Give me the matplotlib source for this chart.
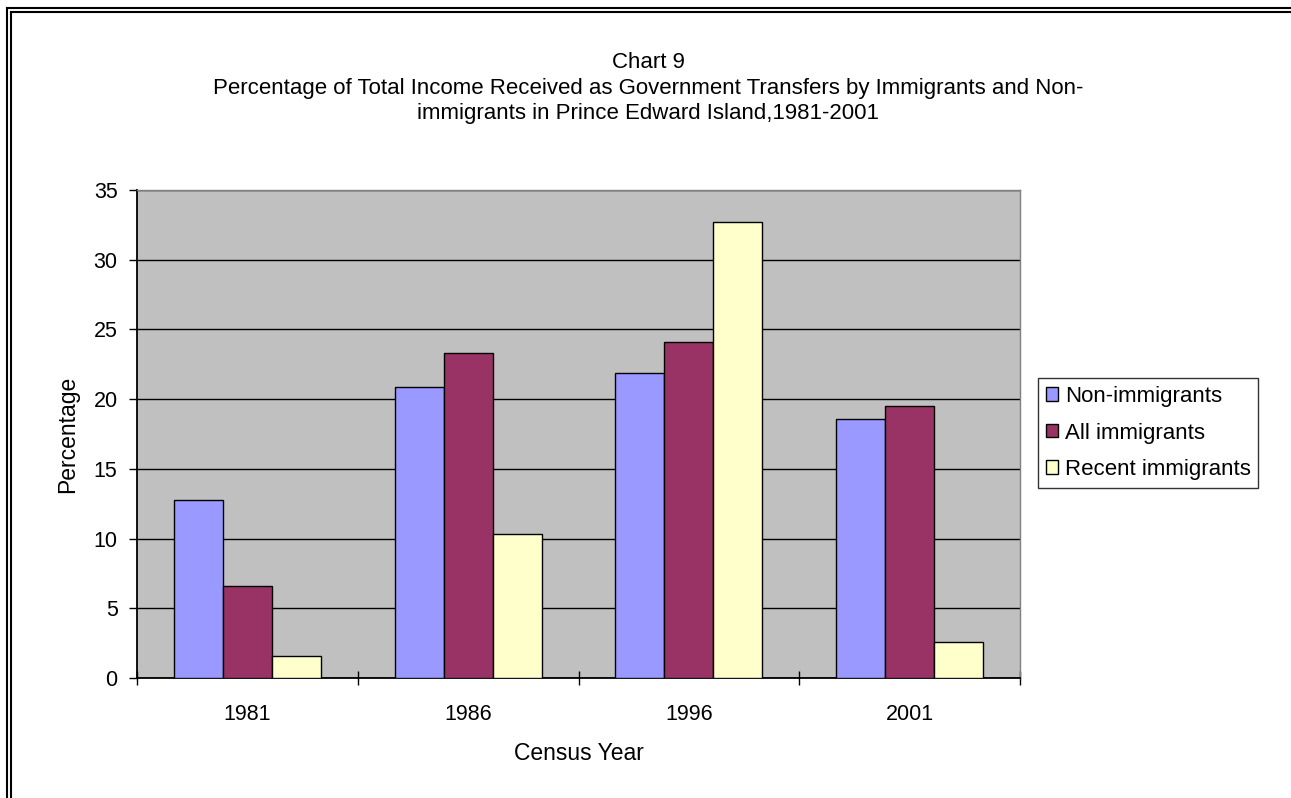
import matplotlib
matplotlib.use("Agg")
import matplotlib.pyplot as plt
from matplotlib.lines import Line2D
import numpy as np

plt.rcParams['font.family'] = ['Liberation Sans', 'DejaVu Sans']

years = ["1981", "1986", "1996", "2001"]
non_immigrants = [12.8, 20.9, 21.9, 18.6]
all_immigrants = [6.6, 23.3, 24.1, 19.5]
recent_immigrants = [1.6, 10.3, 32.7, 2.6]

series = [("Non-immigrants", non_immigrants, "#9999FF"),
          ("All immigrants", all_immigrants, "#993366"),
          ("Recent immigrants", recent_immigrants, "#FFFFCC")]

W, H = 1291, 798
fig = plt.figure(figsize=(W / 100, H / 100), dpi=100)
ax = fig.add_axes([137 / W, 1 - 678 / H, (1020 - 137) / W, (678 - 190) / H])
ax.set_facecolor("#C0C0C0")

x = np.arange(len(years))
bw = 0.222
for i, (name, vals, col) in enumerate(series):
    ax.bar(x + (i - 1) * bw, vals, bw, color=col, edgecolor="black",
           linewidth=1.0, label=name, zorder=3)

ax.set_xlim(-0.5, len(years) - 0.5)
ax.set_ylim(0, 35)
ax.set_yticks(range(0, 36, 5))
ax.yaxis.grid(True, color="black", linewidth=1.0, zorder=1)
ax.set_axisbelow(True)

# group boundary ticks, labels at group centres
ax.set_xticks(np.arange(-0.5, len(years), 1.0))
ax.set_xticklabels([])
ax.set_xticks(x, minor=True)
ax.set_xticklabels(years, minor=True)
ax.tick_params(axis="x", which="major", direction="inout", length=10, width=1.0)
ax.tick_params(axis="x", which="minor", length=0, pad=19, labelsize=15.5)
ax.tick_params(axis="y", direction="out", length=6, width=1.0, pad=8, labelsize=15.5)

for s in ["top", "right"]:
    ax.spines[s].set_color("#808080")
    ax.spines[s].set_linewidth(1.0)
for s in ["left", "bottom"]:
    ax.spines[s].set_color("black")
    ax.spines[s].set_linewidth(1.3)

ax.set_xlabel("Census Year", fontsize=16.5, labelpad=12)
ax.set_ylabel("Percentage", fontsize=16.5, labelpad=10)

fig.text(648 / W, 1 - 62 / H, "Chart 9", ha="center", va="center", fontsize=16)
fig.text(648 / W, 1 - 101 / H,
         "Percentage of Total Income Received as Government Transfers by Immigrants and Non-\n"
         "immigrants in Prince Edward Island,1981-2001",
         ha="center", va="center", fontsize=16, linespacing=1.22)

leg = fig.legend(loc="center left", bbox_to_anchor=(1038 / W, 1 - 433 / H),
                 fontsize=16, frameon=True, fancybox=False, handlelength=0.55,
                 handleheight=0.55, handletextpad=0.3, borderpad=0.35,
                 labelspacing=0.7, borderaxespad=0)
leg.get_frame().set_edgecolor("black")
leg.get_frame().set_linewidth(1.0)

# double border on left and top
for px in (7, 11):
    fig.add_artist(Line2D([px / W, px / W], [0, 1 - (px + 1) / H],
                          color="black", linewidth=1.5))
    fig.add_artist(Line2D([px / W, 1], [1 - (px + 1) / H, 1 - (px + 1) / H],
                          color="black", linewidth=1.5))

fig.savefig("out.png", dpi=100, facecolor="white")
